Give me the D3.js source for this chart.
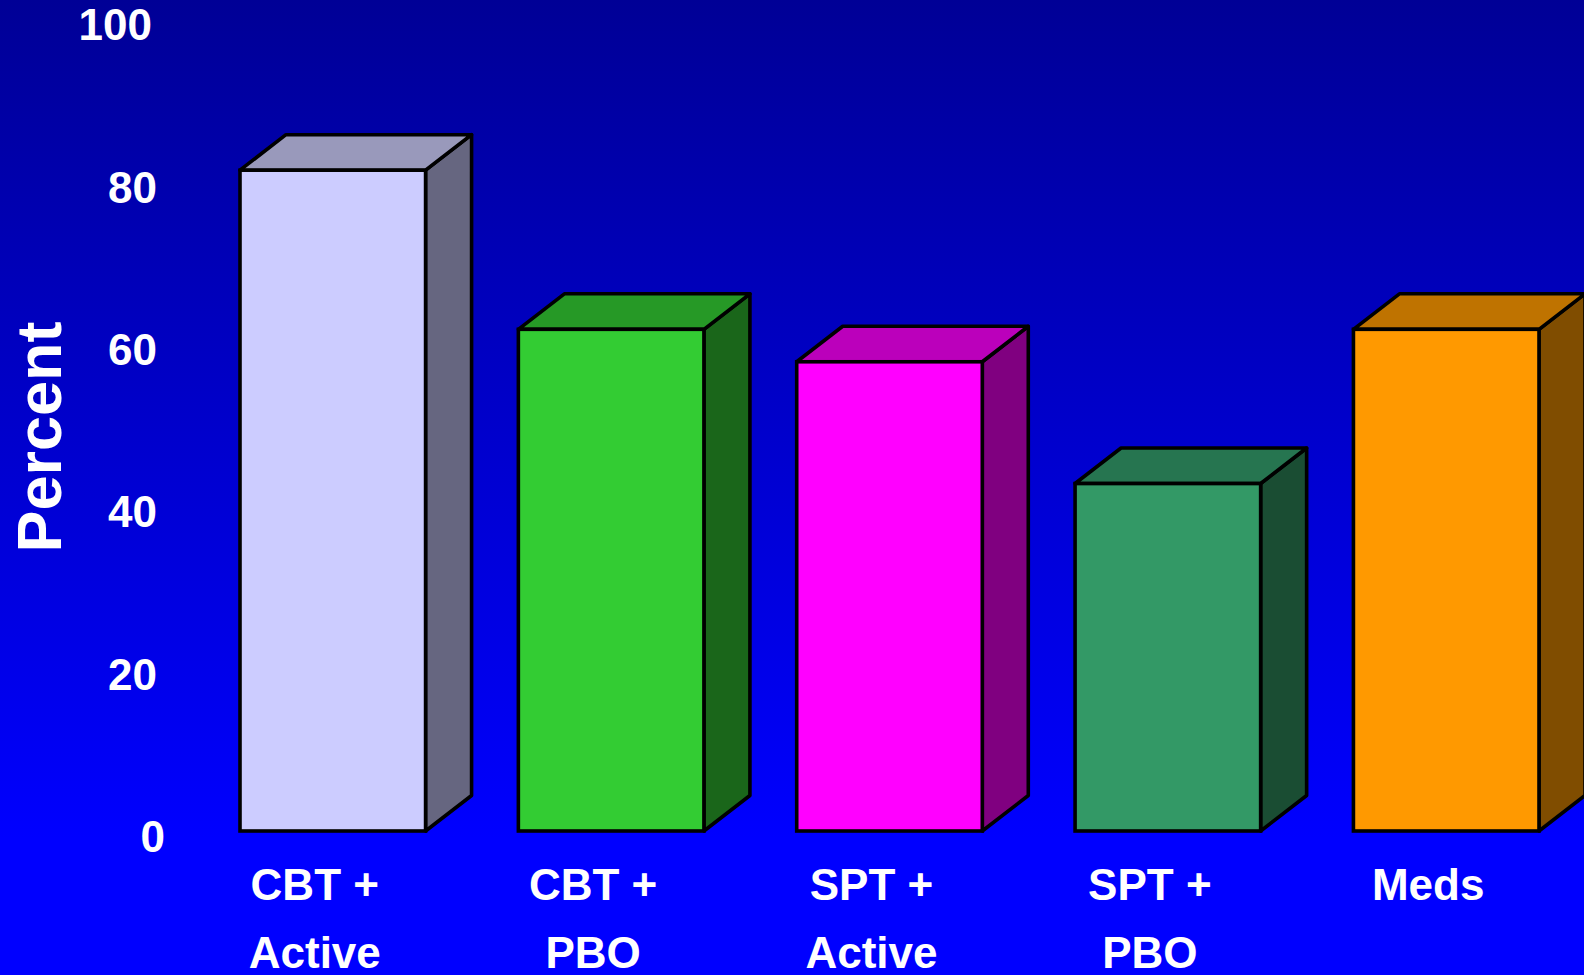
<!DOCTYPE html>
<html>
<head>
<meta charset="utf-8">
<script src="https://cdn.jsdelivr.net/npm/d3@7"></script>
<style>
  html, body { margin: 0; padding: 0; overflow: hidden; background: #0000ff; }
  svg { display: block; }
  text { font-family: Arial, "Liberation Sans", sans-serif; font-weight: bold; fill: #ffffff; }
</style>
</head>
<body>
<script>
// ---- data ----
const categories = ["CBT +\nActive", "CBT +\nPBO", "SPT +\nActive", "SPT +\nPBO", "Meds"];
const values = [81.4, 61.8, 57.8, 42.8, 61.8];
const frontColors = ["#ccccff", "#33cc33", "#ff00ff", "#339966", "#ff9900"];
const topColors   = ["#9999bb", "#269926", "#bb00bb", "#267550", "#bf7300"];
const sideColors  = ["#666680", "#1a661a", "#800080", "#1a4d33", "#804d00"];
const yTicks = [0, 20, 40, 60, 80, 100];
const yTitle = "Percent";

// ---- layout ----
const W = 1584, H = 975;
const svg = d3.select("body").append("svg").attr("width", W).attr("height", H);

const defs = svg.append("defs");
const grad = defs.append("linearGradient").attr("id", "bg")
  .attr("x1", 0).attr("y1", 0).attr("x2", 0).attr("y2", 1);
grad.append("stop").attr("offset", "0%").attr("stop-color", "#000096");
grad.append("stop").attr("offset", "86%").attr("stop-color", "#0000ff");
grad.append("stop").attr("offset", "100%").attr("stop-color", "#0000ff");
svg.append("rect").attr("width", W).attr("height", H).attr("fill", "url(#bg)");

const x = d3.scaleBand().domain(categories).range([240, 1539]).paddingInner(1/3).paddingOuter(0);
const y = d3.scaleLinear().domain([0, 100]).range([831, 19.2]);
const dx = 46, dy = 35.5;
const bw = x.bandwidth();

// ---- y tick labels ----
const tickX = v => 157 + (v === 0 ? 8 : v === 100 ? -5 : 0);
svg.append("g").selectAll("text").data(yTicks).join("text")
  .attr("x", d => tickX(d))
  .attr("y", d => y(d) + 5.5 + 15.7)
  .attr("text-anchor", "end")
  .attr("font-size", 44)
  .text(d => d);

// ---- y title ----
svg.append("text")
  .attr("transform", "translate(61,437) rotate(-90)")
  .attr("text-anchor", "middle")
  .attr("font-size", 63)
  .text(yTitle);

// ---- bars ----
const bars = svg.append("g").selectAll("g").data(categories).join("g");
const strokeW = 3.6;
bars.append("path")
  .attr("d", (d, i) => {
    const x0 = x(d) + bw, yt = y(values[i]), yb = y(0);
    return `M${x0},${yt}L${x0 + dx},${yt - dy}L${x0 + dx},${yb - dy}L${x0},${yb}Z`;
  })
  .attr("fill", (d, i) => sideColors[i])
  .attr("stroke", "#000").attr("stroke-width", strokeW).attr("stroke-linejoin", "round");
bars.append("path")
  .attr("d", (d, i) => {
    const x0 = x(d), yt = y(values[i]);
    return `M${x0},${yt}L${x0 + dx},${yt - dy}L${x0 + bw + dx},${yt - dy}L${x0 + bw},${yt}Z`;
  })
  .attr("fill", (d, i) => topColors[i])
  .attr("stroke", "#000").attr("stroke-width", strokeW).attr("stroke-linejoin", "round");
bars.append("rect")
  .attr("x", d => x(d))
  .attr("y", (d, i) => y(values[i]))
  .attr("width", bw)
  .attr("height", (d, i) => y(0) - y(values[i]))
  .attr("fill", (d, i) => frontColors[i])
  .attr("stroke", "#000").attr("stroke-width", strokeW);

// ---- category labels ----
const labels = svg.append("g").selectAll("text").data(categories).join("text")
  .attr("text-anchor", "middle")
  .attr("font-size", 44);
labels.each(function(d) {
  const t = d3.select(this);
  const cx = x(d) + bw / 2 - 18;
  d.split("\n").forEach((line, k) => {
    t.append("tspan").attr("x", cx).attr("y", 899.5 + k * 68.5).text(line);
  });
});
</script>
</body>
</html>
